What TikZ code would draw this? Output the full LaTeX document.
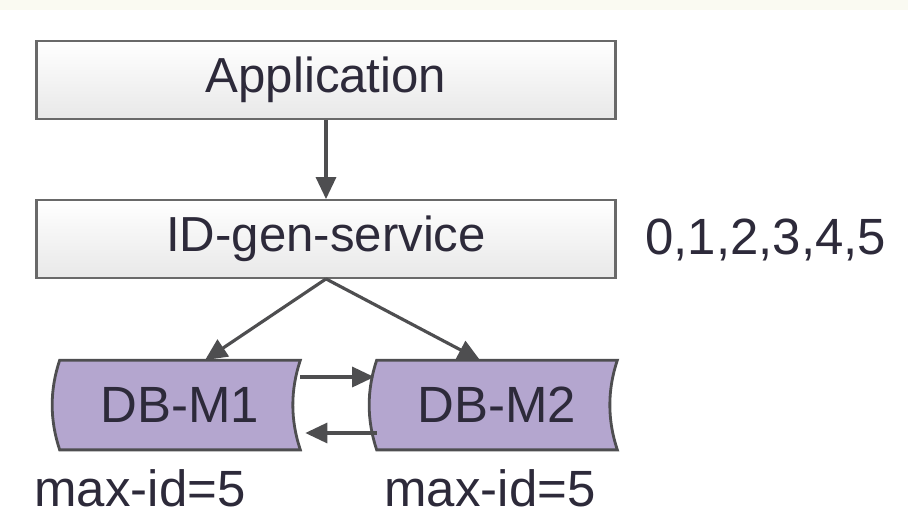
\documentclass[tikz,border=0pt]{standalone}
\usepackage{fontspec}
\setmainfont{Liberation Sans}
\usetikzlibrary{arrows.meta,backgrounds}
\definecolor{inkgray}{RGB}{78,78,80}
\definecolor{textgray}{RGB}{45,42,58}
\definecolor{dblilac}{RGB}{180,166,207}
\definecolor{boxedge}{RGB}{105,105,105}
\definecolor{cream}{RGB}{250,250,242}
\tikzset{
  node-box/.style={draw=boxedge,line width=1.3pt,top color=white,bottom color=black!9,rectangle,minimum width=11.58cm,minimum height=1.55cm,inner sep=0pt,text=textgray,font=\fontsize{28}{32}\selectfont},
  node-db/.style={rectangle,minimum width=4.8cm,minimum height=1.78cm,inner sep=0pt,text=textgray,font=\fontsize{29}{33}\selectfont},
  db-shape/.style={draw=inkgray,fill=dblilac,line width=1.6pt},
  flow/.style={-{Triangle[length=4.4mm,width=4mm]},line width=1.8pt,inkgray},
  note/.style={text=textgray,font=\fontsize{29}{33}\selectfont},
}

\begin{document}
\begin{tikzpicture}[x=0.02cm,y=-0.02cm]

  \useasboundingbox (0,0) rectangle (908,524);

  % boxes
  \node[node-box] (app)   at (326,80)  {Application};
  \node[node-box] (idgen) at (326,239) {ID-gen-service};
  \node[note,anchor=west] (seq) at (639,240) {0,1,2,3,4,5};

  % databases
  \node[node-db] (db1) at (180,405) {DB-M1};
  \node[node-db] (db2) at (497,405) {DB-M2};
  \node[note] (max1) at (140,488) {max-id=5};
  \node[note] (max2) at (490,488) {max-id=5};

  \begin{scope}[on background layer]
    \fill[white] (0,0) rectangle (908,524);
    \fill[cream] (0,0) rectangle (908,10);
    \draw[db-shape] (db1.north west) .. controls +(-10,30) and +(-10,-30) .. (db1.south west)
      -- (db1.south east) .. controls +(-10,-30) and +(-10,30) .. (db1.north east) -- cycle;
    \draw[db-shape] (db2.north west) .. controls +(-10,30) and +(-10,-30) .. (db2.south west)
      -- (db2.south east) .. controls +(-10,-30) and +(-10,30) .. (db2.north east) -- cycle;
  \end{scope}

  % connectors
  \draw[flow] (app) -- (idgen);
  \draw[flow] (idgen.south) -- ([xshift=0.5cm]db1.north);
  \draw[flow] (idgen.south) -- ([xshift=-0.34cm]db2.north);
  \draw[flow] ([yshift=0.56cm]db1.east) -- ([xshift=-0.05cm,yshift=0.56cm]db2.west);
  \draw[flow] ([yshift=-0.56cm]db2.west) -- ([xshift=0.1cm,yshift=-0.56cm]db1.east);

\end{tikzpicture}
\end{document}
